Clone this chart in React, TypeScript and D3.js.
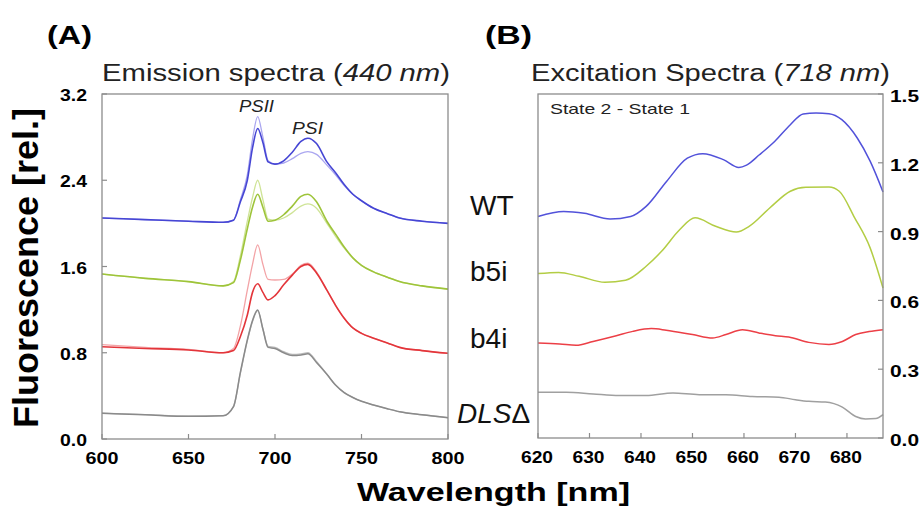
import React from "react";
import * as d3 from "d3";

// ---------- Panel A: emission spectra (440 nm excitation) ----------
const emWl = [600, 625, 650, 670, 676, 680, 684, 687, 690, 693, 696, 700, 705, 710, 715, 719, 724, 730, 735, 740, 745, 750, 757, 765, 772, 785, 800];
const wtDark = [2.05, 2.035, 2.02, 2.01, 2.03, 2.2, 2.4, 2.7, 2.88, 2.75, 2.57, 2.55, 2.58, 2.66, 2.76, 2.79, 2.74, 2.57, 2.47, 2.36, 2.27, 2.21, 2.14, 2.09, 2.05, 2.02, 2.0];
const wtLight = [2.05, 2.035, 2.02, 2.01, 2.03, 2.22, 2.45, 2.78, 2.99, 2.8, 2.58, 2.55, 2.56, 2.6, 2.65, 2.665, 2.64, 2.54, 2.45, 2.35, 2.27, 2.21, 2.14, 2.09, 2.05, 2.02, 2.0];
const b5iDark = [1.53, 1.49, 1.46, 1.42, 1.45, 1.66, 1.95, 2.15, 2.27, 2.15, 2.02, 2.03, 2.08, 2.16, 2.25, 2.27, 2.2, 2.02, 1.9, 1.78, 1.68, 1.61, 1.55, 1.5, 1.46, 1.42, 1.39];
const b5iLight = [1.53, 1.49, 1.46, 1.42, 1.46, 1.7, 2.02, 2.24, 2.4, 2.22, 2.04, 2.03, 2.05, 2.1, 2.16, 2.18, 2.14, 2.0, 1.88, 1.77, 1.68, 1.61, 1.55, 1.5, 1.46, 1.42, 1.39];
const b4iDark = [0.856, 0.84, 0.826, 0.8, 0.82, 0.95, 1.15, 1.36, 1.44, 1.36, 1.29, 1.33, 1.43, 1.52, 1.6, 1.62, 1.54, 1.38, 1.24, 1.12, 1.03, 0.98, 0.935, 0.89, 0.85, 0.82, 0.795];
const b4iLight = [0.875, 0.85, 0.83, 0.8, 0.84, 1.05, 1.38, 1.62, 1.8, 1.62, 1.48, 1.475, 1.48, 1.53, 1.61, 1.63, 1.55, 1.38, 1.24, 1.12, 1.03, 0.98, 0.935, 0.89, 0.85, 0.82, 0.795];
const dlsDark = [0.238, 0.225, 0.21, 0.215, 0.3, 0.62, 0.92, 1.1, 1.197, 1.02, 0.85, 0.84, 0.8, 0.775, 0.78, 0.79, 0.71, 0.6, 0.5, 0.43, 0.385, 0.35, 0.315, 0.28, 0.253, 0.225, 0.198];
const dlsLight = [0.24, 0.226, 0.212, 0.216, 0.3, 0.61, 0.91, 1.09, 1.19, 1.02, 0.86, 0.85, 0.81, 0.785, 0.79, 0.8, 0.72, 0.6, 0.5, 0.43, 0.385, 0.35, 0.315, 0.28, 0.253, 0.225, 0.198];
const emXTicks = [600, 650, 700, 750, 800];
const emYTicks = [0, 0.8, 1.6, 2.4, 3.2];

// ---------- Panel B: excitation spectra (718 nm emission), State 2 - State 1 ----------
const exWtWl = [620, 625, 629, 634, 638, 641, 645, 649, 652, 656, 659, 660.5, 663, 666, 669, 671.5, 674, 676.5, 679, 682, 684.5, 687];
const exWt = [0.966, 0.988, 0.98, 0.955, 0.966, 1.01, 1.12, 1.22, 1.24, 1.214, 1.18, 1.19, 1.235, 1.294, 1.366, 1.413, 1.417, 1.414, 1.388, 1.308, 1.207, 1.073];
const exB5iWl = [620, 624, 628, 633, 637, 641, 644, 647.5, 650.5, 654.5, 658.5, 661, 665, 669, 672, 676.5, 678.5, 681.5, 684.5, 687];
const exB5i = [0.717, 0.722, 0.705, 0.679, 0.688, 0.749, 0.814, 0.908, 0.96, 0.923, 0.898, 0.923, 1.003, 1.076, 1.093, 1.094, 1.076, 0.96, 0.829, 0.654];
const exB4iWl = [620, 624.2, 627.4, 630.7, 635.2, 638.4, 642, 644.9, 650, 653.9, 656.5, 659.7, 662.9, 666.1, 668.7, 672.6, 676.5, 679.1, 681.7, 684.3, 687];
const exB4i = [0.414, 0.41, 0.404, 0.421, 0.446, 0.465, 0.477, 0.47, 0.451, 0.436, 0.451, 0.472, 0.458, 0.446, 0.44, 0.417, 0.408, 0.421, 0.451, 0.464, 0.472];
const exDlsWl = [620, 625.5, 630.7, 635.8, 641, 646.2, 651.3, 656.5, 661.6, 666.8, 670, 672.6, 675.8, 679.1, 681.7, 683.6, 685.6, 687];
const exDls = [0.2, 0.2, 0.192, 0.185, 0.185, 0.196, 0.189, 0.189, 0.181, 0.178, 0.167, 0.16, 0.157, 0.135, 0.094, 0.083, 0.085, 0.102];
const exXTicks = [620, 630, 640, 650, 660, 670, 680];
const exYTicks = [0, 0.3, 0.6, 0.9, 1.2, 1.5];

const strainLabels = ["WT", "b5i", "b4i"];

const C = {
  blue: "#4646d4", blueL: "#aaa6f0",
  green: "#9ec43a", greenL: "#cfe497",
  red: "#e3353a", redL: "#f3a3a6",
  gray: "#8a8a8a", grayL: "#bdbdbd",
  bBlue: "#5252da", bGreen: "#b3cd44", bRed: "#ec3f46", bGray: "#a0a0a0",
  axis: "#8c8c8c",
};

const FONT = "'Liberation Sans', Arial, Helvetica, sans-serif";

export default function App() {
  // Panel A geometry
  const A = { l: 102, t: 94, r: 448, b: 439 };
  const B = { l: 538, t: 94, r: 883, b: 438 };
  const xA = d3.scaleLinear().domain([600, 800]).range([A.l, A.r]);
  const yA = d3.scaleLinear().domain([0, 3.2]).range([A.b, A.t]);
  const xB = d3.scaleLinear().domain([620, 687]).range([B.l, B.r]);
  const yB = d3.scaleLinear().domain([0, 1.5]).range([B.b, B.t]);

  const lineA = (vals: number[]) =>
    d3.line<number>().x((_, i) => xA(emWl[i])).y((v) => yA(v)).curve(d3.curveMonotoneX)(vals) || "";
  const lineB = (wl: number[], vals: number[]) =>
    d3.line<number>().x((_, i) => xB(wl[i])).y((v) => yB(v)).curve(d3.curveMonotoneX)(vals) || "";

  const emSeries = [
    { v: dlsLight, c: C.grayL, w: 1.3 },
    { v: dlsDark, c: C.gray, w: 1.5 },
    { v: b4iLight, c: C.redL, w: 1.3 },
    { v: b4iDark, c: C.red, w: 1.6 },
    { v: b5iLight, c: C.greenL, w: 1.3 },
    { v: b5iDark, c: C.green, w: 1.6 },
    { v: wtLight, c: C.blueL, w: 1.3 },
    { v: wtDark, c: C.blue, w: 1.6 },
  ];
  const exSeries = [
    { wl: exDlsWl, v: exDls, c: C.bGray },
    { wl: exB4iWl, v: exB4i, c: C.bRed },
    { wl: exB5iWl, v: exB5i, c: C.bGreen },
    { wl: exWtWl, v: exWt, c: C.bBlue },
  ];

  const tickFs = 16;
  const tk = 5;

  return (
    <svg width={922} height={511} style={{ position: "absolute", left: 0, top: 0, background: "#fff" }} fontFamily={FONT}>
      {/* panel letters */}
      <text x={47} y={44} fontSize={25} fontWeight="bold" textLength={45} lengthAdjust="spacingAndGlyphs">(A)</text>
      <text x={485} y={44} fontSize={25} fontWeight="bold" textLength={47} lengthAdjust="spacingAndGlyphs">(B)</text>

      {/* titles */}
      <text x={102} y={81} fontSize={23.5} fill="#222" textLength={348} lengthAdjust="spacingAndGlyphs">
        Emission spectra (<tspan fontStyle="italic">440 nm</tspan>)
      </text>
      <text x={531} y={81} fontSize={23.5} fill="#222" textLength={359} lengthAdjust="spacingAndGlyphs">
        Excitation Spectra (<tspan fontStyle="italic">718 nm</tspan>)
      </text>

      {/* Panel A curves */}
      <g fill="none">
        {emSeries.map((s, i) => (
          <path key={i} d={lineA(s.v)} stroke={s.c} strokeWidth={s.w} strokeLinejoin="round" />
        ))}
      </g>
      {/* Panel A frame */}
      <rect x={A.l} y={A.t} width={A.r - A.l} height={A.b - A.t} fill="none" stroke={C.axis} strokeWidth={1.3} />
      {emXTicks.map((t) => (
        <g key={"ax" + t}>
          <line x1={xA(t)} x2={xA(t)} y1={A.b} y2={A.b - tk} stroke={C.axis} strokeWidth={1.2} />
          <text x={xA(t)} y={464} fontSize={tickFs} fontWeight="bold" textAnchor="middle" textLength={33} lengthAdjust="spacingAndGlyphs">{t}</text>
        </g>
      ))}
      {emYTicks.map((t) => (
        <g key={"ay" + t}>
          <line x1={A.l} x2={A.l + tk} y1={yA(t)} y2={yA(t)} stroke={C.axis} strokeWidth={1.2} />
          <text x={87} y={yA(t) + 7} fontSize={tickFs} fontWeight="bold" textAnchor="end" textLength={27} lengthAdjust="spacingAndGlyphs">{t.toFixed(1)}</text>
        </g>
      ))}
      <text x={239} y={112} fontSize={16.5} fontStyle="italic" fill="#222" textLength={35} lengthAdjust="spacingAndGlyphs">PSII</text>
      <text x={292} y={134} fontSize={16.5} fontStyle="italic" fill="#222" textLength={31} lengthAdjust="spacingAndGlyphs">PSI</text>

      {/* Panel B curves */}
      <g fill="none">
        {exSeries.map((s, i) => (
          <path key={i} d={lineB(s.wl, s.v)} stroke={s.c} strokeWidth={1.5} strokeLinejoin="round" />
        ))}
      </g>
      <rect x={B.l} y={B.t} width={B.r - B.l} height={B.b - B.t} fill="none" stroke={C.axis} strokeWidth={1.3} />
      {exXTicks.map((t) => (
        <g key={"bx" + t}>
          <line x1={xB(t)} x2={xB(t)} y1={B.b} y2={B.b - tk} stroke={C.axis} strokeWidth={1.2} />
          <text x={xB(t) - 1} y={463} fontSize={tickFs} fontWeight="bold" textAnchor="middle" textLength={32} lengthAdjust="spacingAndGlyphs">{t}</text>
        </g>
      ))}
      {exYTicks.map((t) => (
        <g key={"by" + t}>
          <line x1={B.r} x2={B.r - tk} y1={yB(t)} y2={yB(t)} stroke={C.axis} strokeWidth={1.2} />
          <text x={890} y={yB(t) + 8} fontSize={tickFs} fontWeight="bold" textAnchor="start" textLength={29} lengthAdjust="spacingAndGlyphs">{t.toFixed(1)}</text>
        </g>
      ))}
      <text x={550} y={114} fontSize={15} fill="#222" textLength={140} lengthAdjust="spacingAndGlyphs">State 2 - State 1</text>

      {/* strain labels */}
      {strainLabels.map((s, i) => (
        <text key={s} x={470} y={[215, 281, 348][i]} fontSize={28} fill="#111">{s}</text>
      ))}
      <text x={457} y={423} fontSize={28} fill="#111">
        <tspan fontStyle="italic">DLS</tspan>Δ
      </text>

      {/* axis titles */}
      <text transform="translate(38,268) rotate(-90)" fontSize={35} fontWeight="bold" textAnchor="middle" textLength={320} lengthAdjust="spacingAndGlyphs">
        Fluorescence [rel.]
      </text>
      <text x={493.5} y={501} fontSize={26} fontWeight="bold" textAnchor="middle" textLength={273} lengthAdjust="spacingAndGlyphs">
        Wavelength [nm]
      </text>
    </svg>
  );
}
